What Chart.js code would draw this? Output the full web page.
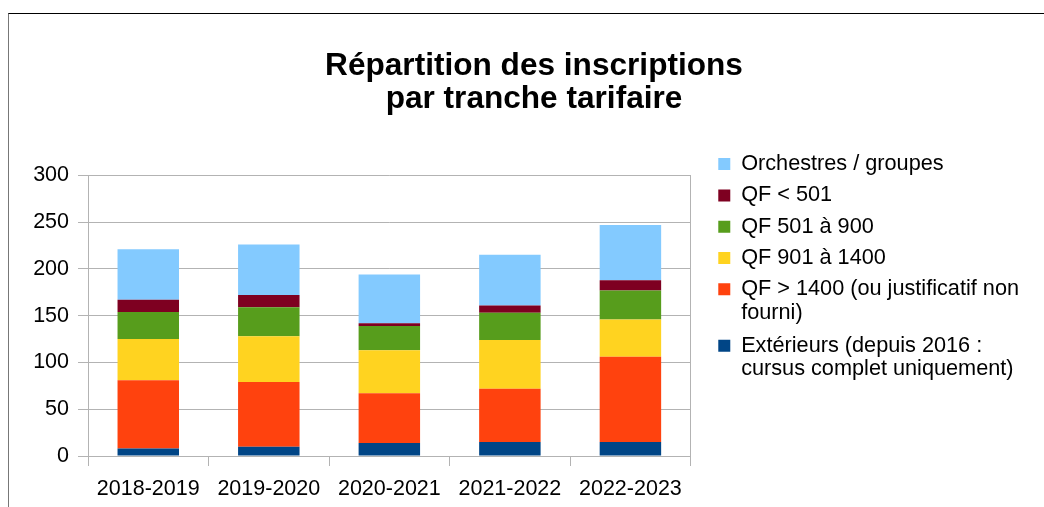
<!DOCTYPE html>
<html>
<head>
<meta charset="utf-8">
<script src="https://cdn.jsdelivr.net/npm/chart.js@4/dist/chart.umd.min.js"></script>
<style>
  body { margin: 0; background: #fff; overflow: hidden; }
  #cadre {
    position: absolute; left: 8px; top: 13px;
    border-top: 1px solid #000; border-left: 1px solid #777;
    width: 1060px; height: 500px;
  }
  canvas { display: block; }
</style>
</head>
<body>
<div id="cadre"><canvas id="myChart" width="1050" height="494"></canvas></div>
<script>
  // donnees
  const annees = ['2018-2019', '2019-2020', '2020-2021', '2021-2022', '2022-2023'];

  const exterieurs = [8, 10, 14, 15, 15];
  const qfPlus1400 = [73, 69, 53, 57, 91];
  const qf901a1400 = [44, 49, 46, 52, 40];
  const qf501a900  = [29, 31, 26, 29, 31];
  const qfMoins501 = [13, 13, 3, 8, 11];
  const orchestres = [54, 54, 52, 54, 59];

  const yTicks = [0, 50, 100, 150, 200, 250, 300];

  const gris = '#b3b3b3';
  Chart.defaults.font.family = "'Liberation Sans', Arial, sans-serif";
  Chart.defaults.color = '#000';

  const data = {
    labels: annees,
    datasets: [{
      label: 'Extérieurs (depuis 2016 :\ncursus complet uniquement)',
      backgroundColor: '#004586',
      data: exterieurs,
    }, {
      label: 'QF > 1400 (ou justificatif non\nfourni)',
      backgroundColor: '#ff420e',
      data: qfPlus1400,
    }, {
      label: 'QF 901 à 1400',
      backgroundColor: '#ffd320',
      data: qf901a1400,
    }, {
      label: 'QF 501 à 900',
      backgroundColor: '#579d1c',
      data: qf501a900,
    }, {
      label: 'QF < 501',
      backgroundColor: '#7e0021',
      data: qfMoins501,
    }, {
      label: 'Orchestres / groupes',
      backgroundColor: '#83caff',
      data: orchestres,
    }]
  };

  // la legende est limitee a une fraction de la largeur, on lui laisse plus de place
  // (+ un peu de marge a droite pour que le titre reste centre sur tout le cadre)
  const legendeLarge = {
    id: 'legendeLarge',
    afterInit(chart) {
      const lg = chart.legend;
      if (!lg) return;
      const orig = lg.update.bind(lg);
      lg.update = (maxW, maxH, margins) => {
        orig(Math.max(maxW, 340), maxH, margins);
        lg.width += 30;
      };
    }
  };

  const config = {
    type: 'bar',
    data: data,
    plugins: [legendeLarge],
    options: {
      responsive: false,
      animation: false,
      devicePixelRatio: 1,
      layout: { padding: { top: 13, right: 0, left: 0, bottom: 0 } },
      datasets: {
        bar: { barPercentage: 0.51, categoryPercentage: 1, borderWidth: 0 }
      },
      scales: {
        x: {
          stacked: true,
          offset: true,
          grid: { display: true, offset: true, drawOnChartArea: false, color: gris, tickLength: 10 },
          border: { color: gris },
          ticks: { font: { size: 21.5 }, padding: 10, color: '#000' },
          afterFit: (s) => { s.height = 52; }
        },
        y: {
          stacked: true,
          min: 0,
          max: 300,
          afterBuildTicks: (s) => { s.ticks = yTicks.map(v => ({ value: v })); },
          grid: { color: gris, tickLength: 10 },
          border: { color: gris },
          ticks: { font: { size: 21.5 }, padding: 9, color: '#000' },
          afterFit: (s) => { s.width = 79; }
        },
        y2: {   // sert juste au cadre de droite + espace avant la legende
          position: 'right',
          display: true,
          grid: { display: false },
          ticks: { display: false },
          border: { color: gris },
          afterFit: (s) => { s.width = 18; }
        }
      },
      plugins: {
        tooltip: { enabled: false },
        title: {
          display: true,
          text: ['Répartition des inscriptions', 'par tranche tarifaire'],
          color: '#000',
          font: { size: 31.6, weight: 'bold', lineHeight: 1.05 },
          padding: { top: 23, bottom: 59 }
        },
        legend: {
          position: 'right',
          align: 'center',
          reverse: true,
          labels: {
            boxWidth: 12,
            boxHeight: 12,
            padding: 9.6,
            color: '#000',
            font: { size: 21.7, lineHeight: 1.08 },
            generateLabels: (chart) => {
              const items = Chart.defaults.plugins.legend.labels.generateLabels(chart);
              items.forEach(it => {
                if (it.text.indexOf('\n') >= 0) it.text = it.text.split('\n');
              });
              return items;
            }
          }
        }
      }
    }
  };

  const myChart = new Chart(document.getElementById('myChart'), config);
</script>
</body>
</html>
